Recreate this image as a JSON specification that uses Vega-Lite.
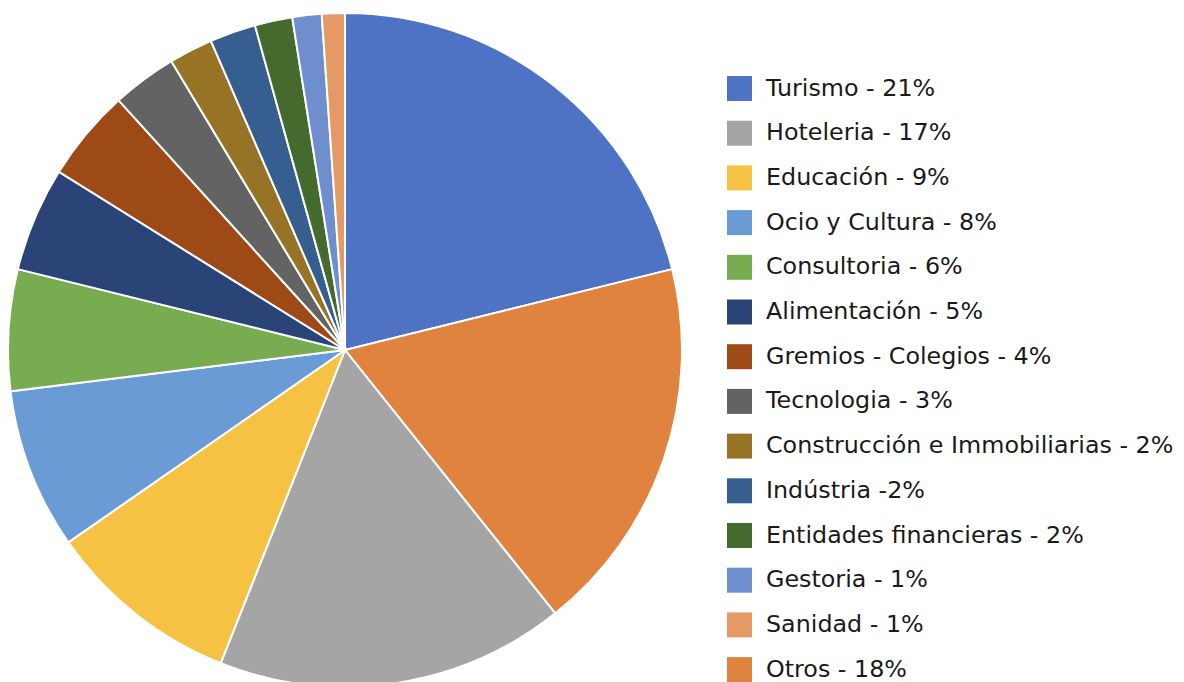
{
  "$schema": "https://vega.github.io/schema/vega-lite/v6.json",
  "width": 690,
  "height": 700,
  "padding": 0,
  "autosize": {"type": "pad"},
  "background": "white",
  "view": {"stroke": null},
  "data": {
    "values": [
      {"sector": "Turismo - 21%", "pct": 21.1, "pos": 1},
      {"sector": "Otros - 18%", "pct": 18.1, "pos": 2},
      {"sector": "Hoteleria - 17%", "pct": 16.7, "pos": 3},
      {"sector": "Educación - 9%", "pct": 9.3, "pos": 4},
      {"sector": "Ocio y Cultura - 8%", "pct": 7.7, "pos": 5},
      {"sector": "Consultoria - 6%", "pct": 5.8, "pos": 6},
      {"sector": "Alimentación - 5%", "pct": 5.0, "pos": 7},
      {"sector": "Gremios - Colegios - 4%", "pct": 4.4, "pos": 8},
      {"sector": "Tecnologia - 3%", "pct": 3.1, "pos": 9},
      {"sector": "Construcción e Immobiliarias - 2%", "pct": 2.1, "pos": 10},
      {"sector": "Indústria -2%", "pct": 2.2, "pos": 11},
      {"sector": "Entidades financieras - 2%", "pct": 1.8, "pos": 12},
      {"sector": "Gestoria - 1%", "pct": 1.4, "pos": 13},
      {"sector": "Sanidad - 1%", "pct": 1.1, "pos": 14}
    ]
  },
  "mark": {"type": "arc", "outerRadius": 337, "stroke": "white", "strokeWidth": 2},
  "encoding": {
    "theta": {"field": "pct", "type": "quantitative", "stack": true},
    "order": {"field": "pos", "type": "quantitative"},
    "color": {
      "field": "sector",
      "type": "nominal",
      "scale": {
        "domain": ["Turismo - 21%", "Hoteleria - 17%", "Educación - 9%", "Ocio y Cultura - 8%", "Consultoria - 6%", "Alimentación - 5%", "Gremios - Colegios - 4%", "Tecnologia - 3%", "Construcción e Immobiliarias - 2%", "Indústria -2%", "Entidades financieras - 2%", "Gestoria - 1%", "Sanidad - 1%", "Otros - 18%"],
        "range": ["#4E72C4", "#A5A5A5", "#F5C243", "#6A9BD5", "#77AD50", "#2A4478", "#9E4A16", "#636363", "#977325", "#365E8F", "#446A2E", "#6F8ECE", "#E59A66", "#E0833F"]
      },
      "legend": {
        "title": null,
        "orient": "none",
        "legendX": 727,
        "legendY": 76,
        "padding": 0,
        "symbolType": "square",
        "symbolSize": 625,
        "symbolStrokeWidth": 0,
        "symbolOpacity": 1,
        "labelFont": "DejaVu Sans",
        "labelFontSize": 23.8,
        "labelColor": "#1a1a1a",
        "labelOffset": 14,
        "labelLimit": 600,
        "rowPadding": 19.7
      }
    }
  }
}
